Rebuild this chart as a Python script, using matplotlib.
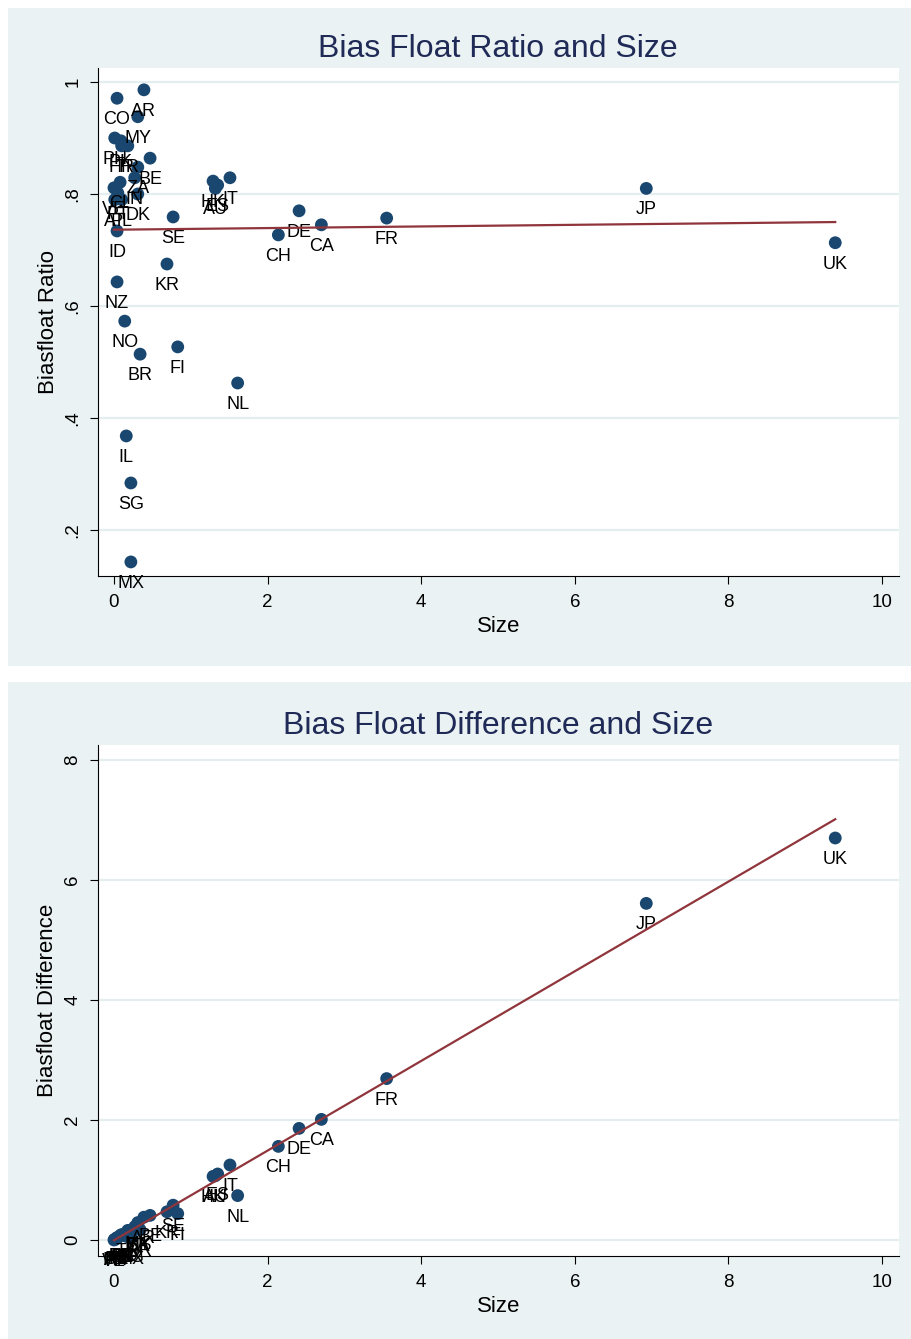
import numpy as np
import matplotlib
matplotlib.use("Agg")
import matplotlib.pyplot as plt
from matplotlib.patches import Rectangle

plt.rcParams['font.family'] = ['Liberation Sans', 'DejaVu Sans']

# ---- data ----
codes = ["CO", "AR", "MY", "PH", "PK", "HR", "TR", "BE", "ZA", "IN", "CL", "VE",
         "PT", "DK", "AT", "PL", "ID", "HK", "ES", "IT", "AU", "SE", "KR", "FI",
         "NL", "CH", "DE", "CA", "FR", "JP", "UK", "NZ", "NO", "BR", "IL", "SG", "MX"]
size = [0.04, 0.39, 0.31, 0.01, 0.09, 0.10, 0.18, 0.47, 0.31, 0.27, 0.08, 0.00,
        0.05, 0.31, 0.01, 0.10, 0.04, 1.29, 1.35, 1.51, 1.32, 0.77, 0.69, 0.83,
        1.61, 2.14, 2.41, 2.70, 3.55, 6.93, 9.39, 0.04, 0.14, 0.34, 0.16, 0.22, 0.22]
ratio = [0.971, 0.986, 0.938, 0.900, 0.895, 0.886, 0.886, 0.864, 0.848, 0.829, 0.821, 0.811,
         0.802, 0.800, 0.790, 0.790, 0.734, 0.823, 0.816, 0.829, 0.810, 0.759, 0.675, 0.527,
         0.4625, 0.727, 0.770, 0.745, 0.757, 0.810, 0.713, 0.643, 0.573, 0.514, 0.368, 0.284, 0.143]
diff = [0.04, 0.38, 0.29, 0.01, 0.08, 0.09, 0.16, 0.41, 0.26, 0.22, 0.07, 0.00,
        0.04, 0.25, 0.01, 0.08, 0.03, 1.06, 1.10, 1.25, 1.07, 0.58, 0.47, 0.44,
        0.74, 1.56, 1.86, 2.01, 2.69, 5.61, 6.70, 0.03, 0.08, 0.17, 0.06, 0.06, 0.03]

x_ticks = [0, 2, 4, 6, 8, 10]
top_yticks = [0.2, 0.4, 0.6, 0.8, 1.0]
top_yticklabels = [".2", ".4", ".6", ".8", "1"]
bot_yticks = [0, 2, 4, 6, 8]
bot_yticklabels = ["0", "2", "4", "6", "8"]

# ---- styling ----
W, H = 911, 1339
BG = "#EAF2F3"
GRID = "#E4EDF0"
NAVY = "#1A476F"
MAROON = "#90353B"
TITLE_C = "#1F2A57"

fig = plt.figure(figsize=(W / 100, H / 100), dpi=100)
fig.patch.set_facecolor("white")

def px_rect(x0, y0, x1, y1):
    return [x0 / W, 1 - y1 / H, (x1 - x0) / W, (y1 - y0) / H]

# panel backgrounds in a background axes
bg = fig.add_axes([0, 0, 1, 1], zorder=-10)
bg.set_xlim(0, W)
bg.set_ylim(H, 0)
bg.axis("off")
for (y0, y1) in [(8, 666), (682, 1339)]:
    bg.add_patch(Rectangle((8, y0), W - 8, y1 - y0, facecolor=BG, edgecolor="none"))

ax1 = fig.add_axes(px_rect(98, 68, 899, 576))
ax2 = fig.add_axes(px_rect(98, 745, 899, 1256))

sx = np.array(size)

def draw(ax, yvals, ylabel, ylim, yticks, yticklabels):
    yv = np.array(yvals)
    ax.set_facecolor("white")
    ax.scatter(sx, yv, s=85, color=NAVY, edgecolors="none", zorder=3)
    for c, xv, yy in zip(codes, sx, yv):
        ax.annotate(c, (xv, yy), xytext=(0, -15.5), textcoords="offset points",
                    ha="center", va="center", fontsize=13, color="black", zorder=4)
    b, a = np.polyfit(sx, yv, 1)
    xl = np.array([sx.min(), sx.max()])
    ax.plot(xl, a + b * xl, color=MAROON, lw=1.6, zorder=5)
    ax.set_xlim(-0.208, 10.22)
    ax.set_ylim(*ylim)
    ax.set_xticks(x_ticks)
    ax.set_xticklabels([str(t) for t in x_ticks])
    ax.set_yticks(yticks)
    ax.set_yticklabels(yticklabels, rotation=90, va="center")
    ax.yaxis.grid(True, color=GRID, lw=1.6, zorder=0)
    ax.set_axisbelow(True)
    for s in ["top", "right"]:
        ax.spines[s].set_visible(False)
    for s in ["left", "bottom"]:
        ax.spines[s].set_color("black")
        ax.spines[s].set_linewidth(0.8)
    ax.tick_params(axis="both", length=6, width=0.8, labelsize=13.5, colors="black")
    ax.tick_params(axis="y", pad=6)
    ax.tick_params(axis="x", pad=7)
    ax.set_xlabel("Size", fontsize=16, va="center")
    ax.xaxis.set_label_coords(0.5, -50 / 508)
    ax.set_ylabel(ylabel, fontsize=16, va="center")
    ax.yaxis.set_label_coords(-50 / 801, 0.5)

draw(ax1, ratio, "Biasfloat Ratio", (0.1179, 1.025), top_yticks, top_yticklabels)
draw(ax2, diff, "Biasfloat Difference", (-0.267, 8.25), bot_yticks, bot_yticklabels)

# titles
fig.text(498 / W, 1 - 49 / H, "Bias Float Ratio and Size", fontsize=23,
         color=TITLE_C, ha="center", va="center")
fig.text(498 / W, 1 - 726 / H, "Bias Float Difference and Size", fontsize=23,
         color=TITLE_C, ha="center", va="center")

fig.savefig("out.png", dpi=100, facecolor="white")
